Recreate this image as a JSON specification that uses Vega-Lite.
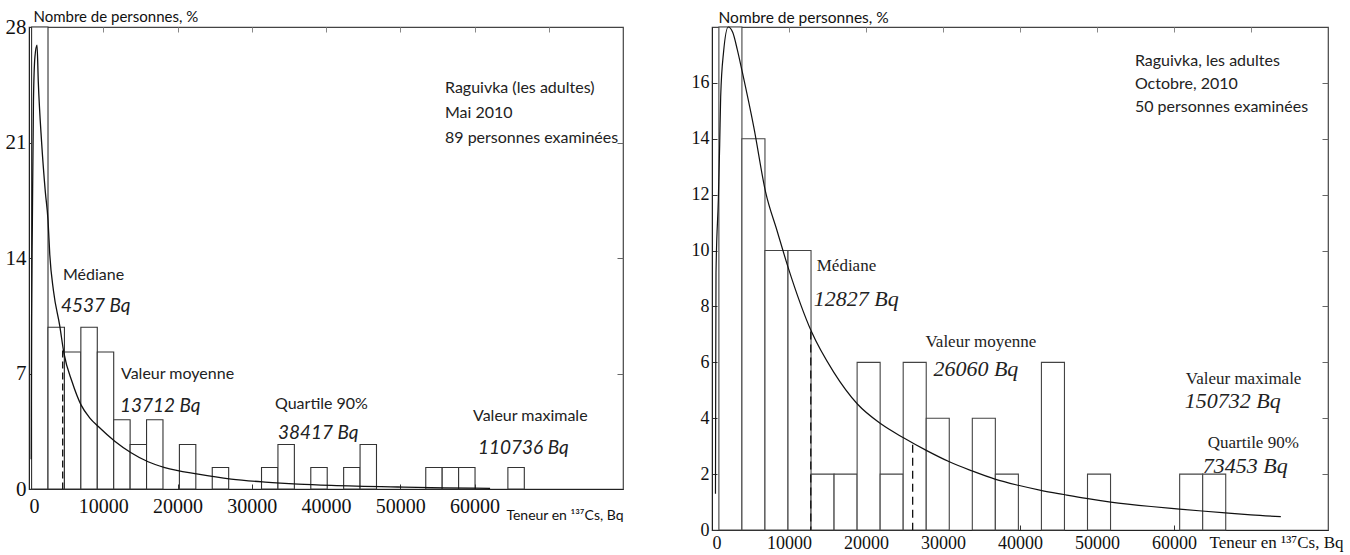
{
  "$schema": "https://vega.github.io/schema/vega-lite/v6.json",
  "background": "white",
  "padding": {"left": 4, "top": 8, "right": 0, "bottom": 0},
  "spacing": 89,
  "bounds": "flush",
  "config": {
    "view": {"stroke": "#444", "strokeWidth": 1.2},
    "axis": {"grid": false, "domainColor": "#222", "tickColor": "#333", "labelColor": "#111", "titleColor": "#111", "titleFontWeight": "normal"}
  },
  "datasets": {
    "left_bins": [
      {"start": 348, "end": 2560, "pct": 28},
      {"start": 2560, "end": 4772, "pct": 9.8},
      {"start": 4772, "end": 6984, "pct": 8.3},
      {"start": 6984, "end": 9196, "pct": 9.8},
      {"start": 9196, "end": 11408, "pct": 8.3},
      {"start": 11408, "end": 13620, "pct": 4.2},
      {"start": 13620, "end": 15832, "pct": 2.7},
      {"start": 15832, "end": 18044, "pct": 4.2},
      {"start": 20256, "end": 22468, "pct": 2.7},
      {"start": 24680, "end": 26892, "pct": 1.3},
      {"start": 31316, "end": 33528, "pct": 1.3},
      {"start": 33528, "end": 35740, "pct": 2.7},
      {"start": 37952, "end": 40164, "pct": 1.3},
      {"start": 42376, "end": 44588, "pct": 1.3},
      {"start": 44588, "end": 46800, "pct": 2.7},
      {"start": 53436, "end": 55648, "pct": 1.3},
      {"start": 55648, "end": 57860, "pct": 1.3},
      {"start": 57860, "end": 60072, "pct": 1.3},
      {"start": 64496, "end": 66708, "pct": 1.3}
    ],
    "left_curve": [
      {"x": 300, "y": 1.8}, {"x": 320, "y": 6}, {"x": 345, "y": 10}, {"x": 450, "y": 16},
      {"x": 600, "y": 23.5}, {"x": 800, "y": 26.2}, {"x": 1080, "y": 26.9}, {"x": 1250, "y": 24.7},
      {"x": 1700, "y": 21}, {"x": 2200, "y": 18}, {"x": 2560, "y": 16.3}, {"x": 2800, "y": 14.2},
      {"x": 3300, "y": 12}, {"x": 4137, "y": 9.9}, {"x": 4717, "y": 8.2}, {"x": 5800, "y": 6.5},
      {"x": 7008, "y": 5.1}, {"x": 8200, "y": 4.3}, {"x": 9300, "y": 3.8}, {"x": 11550, "y": 2.9},
      {"x": 13750, "y": 2.2}, {"x": 16040, "y": 1.65}, {"x": 18290, "y": 1.3}, {"x": 22780, "y": 0.9},
      {"x": 27220, "y": 0.6}, {"x": 31800, "y": 0.42}, {"x": 36250, "y": 0.3}, {"x": 40700, "y": 0.22},
      {"x": 49700, "y": 0.12}, {"x": 56000, "y": 0.07}, {"x": 62100, "y": 0.04}
    ],
    "left_stats": [
      {"stat": "Médiane", "x": 4537, "y": 8.4}
    ],
    "left_notes": [
      {"role": "label", "text": "Médiane", "x": 4579, "y": 13.0},
      {"role": "value", "text": "4537 Bq", "x": 4310, "y": 11.1},
      {"role": "label", "text": "Valeur moyenne", "x": 12390, "y": 6.97},
      {"role": "value", "text": "13712 Bq", "x": 12256, "y": 5.03},
      {"role": "label", "text": "Quartile 90%", "x": 33131, "y": 5.15},
      {"role": "value", "text": "38417 Bq", "x": 33535, "y": 3.39},
      {"role": "label", "text": "Valeur maximale", "x": 59798, "y": 4.42},
      {"role": "value", "text": "110736 Bq", "x": 60471, "y": 2.48},
      {"role": "info", "text": "Raguivka (les adultes)", "x": 56027, "y": 24.3},
      {"role": "info", "text": "Mai 2010", "x": 56027, "y": 22.8},
      {"role": "info", "text": "89 personnes examinées", "x": 56027, "y": 21.3}
    ],
    "right_bins": [
      {"start": 894, "end": 3886, "pct": 18},
      {"start": 3886, "end": 6878, "pct": 14},
      {"start": 6878, "end": 9870, "pct": 10},
      {"start": 9870, "end": 12862, "pct": 10},
      {"start": 12862, "end": 15854, "pct": 2},
      {"start": 15854, "end": 18846, "pct": 2},
      {"start": 18846, "end": 21838, "pct": 6},
      {"start": 21838, "end": 24830, "pct": 2},
      {"start": 24830, "end": 27822, "pct": 6},
      {"start": 27822, "end": 30814, "pct": 4},
      {"start": 33806, "end": 36798, "pct": 4},
      {"start": 36798, "end": 39790, "pct": 2},
      {"start": 42782, "end": 45774, "pct": 6},
      {"start": 48766, "end": 51758, "pct": 2},
      {"start": 60734, "end": 63726, "pct": 2},
      {"start": 63726, "end": 66718, "pct": 2}
    ],
    "right_curve": [
      {"x": 450, "y": 1.3}, {"x": 480, "y": 5}, {"x": 520, "y": 9.2}, {"x": 820, "y": 11.8},
      {"x": 1000, "y": 13.8}, {"x": 1127, "y": 15.5}, {"x": 1500, "y": 17.1}, {"x": 2111, "y": 18.0},
      {"x": 2700, "y": 17.8}, {"x": 3277, "y": 17.2}, {"x": 3925, "y": 16.4}, {"x": 5440, "y": 14.4},
      {"x": 6956, "y": 12.1}, {"x": 8459, "y": 10.7}, {"x": 9883, "y": 9.4}, {"x": 12915, "y": 7.1},
      {"x": 15803, "y": 5.65}, {"x": 18912, "y": 4.5}, {"x": 21930, "y": 3.8}, {"x": 24870, "y": 3.3},
      {"x": 27889, "y": 2.84}, {"x": 30829, "y": 2.44}, {"x": 33718, "y": 2.12}, {"x": 36749, "y": 1.82},
      {"x": 39767, "y": 1.6}, {"x": 42707, "y": 1.42}, {"x": 45687, "y": 1.27}, {"x": 48614, "y": 1.13},
      {"x": 51775, "y": 1.0}, {"x": 57034, "y": 0.84}, {"x": 60712, "y": 0.75}, {"x": 63640, "y": 0.68},
      {"x": 66671, "y": 0.61}, {"x": 69987, "y": 0.54}, {"x": 73873, "y": 0.48}
    ],
    "right_stats": [
      {"stat": "Médiane", "x": 12827, "y": 7.1},
      {"stat": "Valeur moyenne", "x": 26060, "y": 3.05}
    ],
    "right_notes": [
      {"role": "label", "text": "Médiane", "x": 13601, "y": 9.44},
      {"role": "value", "text": "12827 Bq", "x": 13212, "y": 8.26},
      {"role": "label", "text": "Valeur moyenne", "x": 27720, "y": 6.72},
      {"role": "value", "text": "26060 Bq", "x": 28756, "y": 5.75},
      {"role": "label", "text": "Valeur maximale", "x": 61528, "y": 5.39},
      {"role": "value", "text": "150732 Bq", "x": 61399, "y": 4.61},
      {"role": "label", "text": "Quartile 90%", "x": 64378, "y": 3.10},
      {"role": "value", "text": "73453 Bq", "x": 63731, "y": 2.28},
      {"role": "info", "text": "Raguivka, les adultes", "x": 54922, "y": 16.8},
      {"role": "info", "text": "Octobre, 2010", "x": 54922, "y": 15.97},
      {"role": "info", "text": "50 personnes examinées", "x": 54922, "y": 15.14}
    ]
  },
  "hconcat": [
    {
      "width": 594,
      "height": 462,
      "resolve": {"axis": {"x": "independent", "y": "independent"}},
      "layer": [
        {
          "data": {"name": "left_bins"},
          "mark": {"type": "rect", "fill": "white", "stroke": "#333", "strokeWidth": 1.1},
          "encoding": {
            "x": {"field": "start", "type": "quantitative", "scale": {"domain": [0, 80000], "nice": false},
              "axis": {"orient": "bottom", "values": [0, 10000, 20000, 30000, 40000, 50000, 60000], "format": "d",
                "labelFont": "Liberation Serif", "labelFontSize": 20, "tickSize": -5, "labelPadding": 12,
                "title": "Teneur en ¹³⁷Cs, Bq", "titleFont": "Lato", "titleFontSize": 14,
                "titleX": 594, "titleY": 30, "titleAlign": "right", "titleBaseline": "alphabetic"}},
            "x2": {"field": "end"},
            "y": {"field": "pct", "type": "quantitative", "scale": {"domain": [0, 28], "nice": false},
              "axis": {"orient": "left", "values": [0, 7, 14, 21, 28], "labelFont": "Liberation Serif", "labelFontSize": 21,
                "tickSize": -5, "labelPadding": 8,
                "title": "Nombre de personnes, %", "titleFont": "Lato", "titleFontSize": 15, "titleAngle": 0,
                "titleX": 4, "titleY": -6, "titleAlign": "left", "titleBaseline": "alphabetic"}},
            "y2": {"datum": 0}
          }
        },
        {
          "data": {"name": "left_curve"},
          "mark": {"type": "line", "color": "#111", "strokeWidth": 1.3, "interpolate": "monotone"},
          "encoding": {
            "x": {"field": "x", "type": "quantitative", "scale": {"domain": [0, 80000], "nice": false},
              "axis": {"orient": "top", "values": [10000, 20000, 30000, 40000, 50000, 60000, 70000], "labels": false, "domain": false, "tickSize": -5, "tickColor": "#888", "title": null}},
            "y": {"field": "y", "type": "quantitative", "scale": {"domain": [0, 28], "nice": false},
              "axis": {"orient": "right", "values": [7, 14, 21], "labels": false, "domain": false, "tickSize": -6, "tickColor": "#666", "title": null}}
          }
        },
        {
          "data": {"name": "left_stats"},
          "mark": {"type": "rule", "color": "#111", "strokeWidth": 1.3, "strokeDash": [7, 4]},
          "encoding": {
            "x": {"field": "x", "type": "quantitative", "axis": null},
            "y": {"field": "y", "type": "quantitative", "axis": null},
            "y2": {"datum": 0}
          }
        },
        {
          "data": {"name": "left_notes"},
          "transform": [{"filter": "datum.role !== 'value'"}],
          "mark": {"type": "text", "font": "Lato", "fontSize": 16, "align": "left", "baseline": "middle", "color": "#222"},
          "encoding": {
            "x": {"field": "x", "type": "quantitative", "axis": null},
            "y": {"field": "y", "type": "quantitative", "axis": null},
            "text": {"field": "text"}
          }
        },
        {
          "data": {"name": "left_notes"},
          "transform": [{"filter": "datum.role === 'value'"}],
          "mark": {"type": "text", "font": "Lato", "fontSize": 19, "fontStyle": "italic", "align": "left", "baseline": "middle", "color": "#222"},
          "encoding": {
            "x": {"field": "x", "type": "quantitative", "axis": null},
            "y": {"field": "y", "type": "quantitative", "axis": null},
            "text": {"field": "text"}
          }
        }
      ]
    },
    {
      "width": 616,
      "height": 503,
      "resolve": {"axis": {"x": "independent", "y": "independent"}},
      "layer": [
        {
          "data": {"name": "right_bins"},
          "mark": {"type": "rect", "fill": "white", "stroke": "#444", "strokeWidth": 1.1},
          "encoding": {
            "x": {"field": "start", "type": "quantitative", "scale": {"domain": [0, 80000], "nice": false},
              "axis": {"orient": "bottom", "values": [0, 10000, 20000, 30000, 40000, 50000, 60000], "format": "d",
                "labelFont": "Liberation Serif", "labelFontSize": 18, "tickSize": -5, "labelPadding": 9,
                "title": "Teneur en ¹³⁷Cs, Bq", "titleFont": "Liberation Serif", "titleFontSize": 17,
                "titleX": 631, "titleY": 17, "titleAlign": "right", "titleBaseline": "alphabetic"}},
            "x2": {"field": "end"},
            "y": {"field": "pct", "type": "quantitative", "scale": {"domain": [0, 18], "nice": false},
              "axis": {"orient": "left", "values": [0, 2, 4, 6, 8, 10, 12, 14, 16], "labelFont": "Liberation Serif", "labelFontSize": 18,
                "tickSize": -5, "labelPadding": 8,
                "title": "Nombre de personnes, %", "titleFont": "Lato", "titleFontSize": 15.5, "titleAngle": 0,
                "titleX": 6, "titleY": -5, "titleAlign": "left", "titleBaseline": "alphabetic"}},
            "y2": {"datum": 0}
          }
        },
        {
          "data": {"name": "right_curve"},
          "mark": {"type": "line", "color": "#111", "strokeWidth": 1.2, "interpolate": "monotone"},
          "encoding": {
            "x": {"field": "x", "type": "quantitative", "scale": {"domain": [0, 80000], "nice": false},
              "axis": {"orient": "top", "values": [10000, 20000, 30000, 40000, 50000, 60000, 70000], "labels": false, "domain": false, "tickSize": -5, "tickColor": "#888", "title": null}},
            "y": {"field": "y", "type": "quantitative", "scale": {"domain": [0, 18], "nice": false},
              "axis": {"orient": "right", "values": [2, 4, 6, 8, 10, 12, 14, 16], "labels": false, "domain": false, "tickSize": -6, "tickColor": "#666", "title": null}}
          }
        },
        {
          "data": {"name": "right_stats"},
          "mark": {"type": "rule", "color": "#111", "strokeWidth": 1.3, "strokeDash": [8, 5]},
          "encoding": {
            "x": {"field": "x", "type": "quantitative", "axis": null},
            "y": {"field": "y", "type": "quantitative", "axis": null},
            "y2": {"datum": 0}
          }
        },
        {
          "data": {"name": "right_notes"},
          "transform": [{"filter": "datum.role === 'info'"}],
          "mark": {"type": "text", "font": "Lato", "fontSize": 16, "align": "left", "baseline": "middle", "color": "#222"},
          "encoding": {
            "x": {"field": "x", "type": "quantitative", "axis": null},
            "y": {"field": "y", "type": "quantitative", "axis": null},
            "text": {"field": "text"}
          }
        },
        {
          "data": {"name": "right_notes"},
          "transform": [{"filter": "datum.role === 'label'"}],
          "mark": {"type": "text", "font": "Liberation Serif", "fontSize": 17, "align": "left", "baseline": "middle", "color": "#222"},
          "encoding": {
            "x": {"field": "x", "type": "quantitative", "axis": null},
            "y": {"field": "y", "type": "quantitative", "axis": null},
            "text": {"field": "text"}
          }
        },
        {
          "data": {"name": "right_notes"},
          "transform": [{"filter": "datum.role === 'value'"}],
          "mark": {"type": "text", "font": "Liberation Serif", "fontSize": 22, "fontStyle": "italic", "align": "left", "baseline": "middle", "color": "#222"},
          "encoding": {
            "x": {"field": "x", "type": "quantitative", "axis": null},
            "y": {"field": "y", "type": "quantitative", "axis": null},
            "text": {"field": "text"}
          }
        }
      ]
    }
  ]
}
